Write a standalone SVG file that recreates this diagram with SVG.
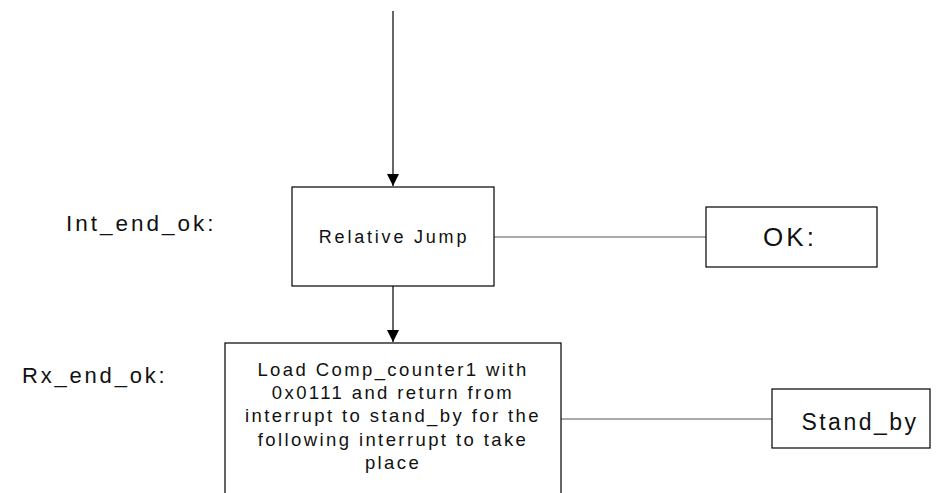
<svg xmlns="http://www.w3.org/2000/svg" width="940" height="493" viewBox="0 0 940 493">
<defs>
<marker id="arr" markerWidth="12" markerHeight="12" refX="12" refY="6" orient="auto" markerUnits="userSpaceOnUse">
<path d="M0,0 L12,6 L0,12 Z" fill="#000"/>
</marker>
<style>
.box{fill:#fff;stroke:#000;stroke-width:1.2}
.t{font-family:"Liberation Sans",Arial,sans-serif;fill:#111}
.conn{stroke:#555;stroke-width:1.2;fill:none}
.arrow{stroke:#000;stroke-width:1.2;fill:none}
</style>
</defs>
<g id="connectors">
<line class="arrow" x1="393" y1="11" x2="393" y2="186" marker-end="url(#arr)"/>
<line class="arrow" x1="393" y1="286" x2="393" y2="342" marker-end="url(#arr)"/>
<line class="conn" x1="494" y1="237" x2="706" y2="237"/>
<line class="conn" x1="561" y1="419" x2="772" y2="419"/>
</g>
<g id="label-int-end-ok">
<text class="t" x="66" y="231" font-size="22.5" letter-spacing="3">Int_end_ok:</text>
</g>
<g id="label-rx-end-ok">
<text class="t" x="22" y="383" font-size="22" letter-spacing="2.8">Rx_end_ok:</text>
</g>
<g id="relative-jump">
<rect class="box" x="292" y="187" width="202" height="99"/>
<text class="t" x="394" y="243" font-size="18" letter-spacing="2.8" text-anchor="middle">Relative Jump</text>
</g>
<g id="ok">
<rect class="box" x="706" y="207" width="171" height="60"/>
<text class="t" x="790" y="246" font-size="26" letter-spacing="3" text-anchor="middle">OK:</text>
</g>
<g id="load-comp">
<rect class="box" x="225" y="343" width="336" height="160"/>
<g class="t" font-size="18.5" letter-spacing="2.4" text-anchor="middle">
<text x="393" y="376">Load Comp_counter1 with</text>
<text x="393" y="399">0x0111 and return from</text>
<text x="393" y="422">interrupt to stand_by for the</text>
<text x="393" y="446">following interrupt to take</text>
<text x="393" y="469">place</text>
</g>
</g>
<g id="stand-by">
<rect class="box" x="772" y="389" width="158" height="59"/>
<text class="t" x="860" y="430" font-size="23" letter-spacing="2.5" text-anchor="middle">Stand_by</text>
</g>
</svg>
